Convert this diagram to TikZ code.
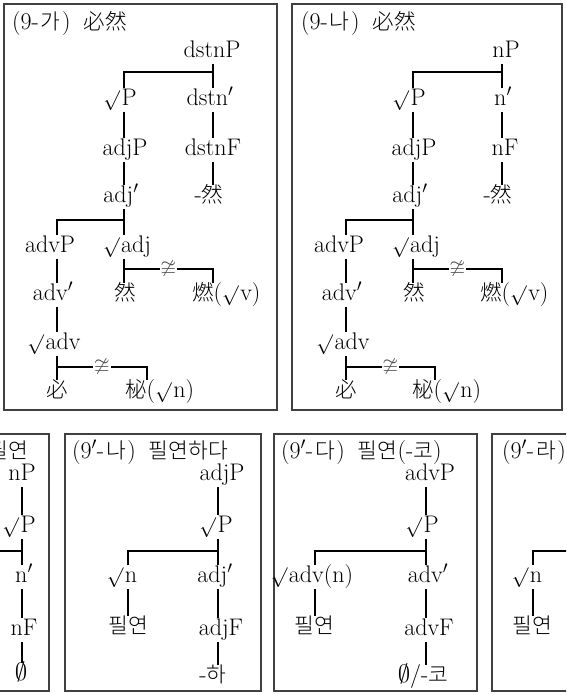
\documentclass[tikz,border=0pt]{standalone}
\usepackage{amsmath,amssymb}
\usepackage{graphicx}
\usepackage{fontspec}
\newfontfamily\krfont{Noto Sans CJK KR Light}
\newcommand{\kr}[1]{{\krfont\fontsize{21.5}{26}\selectfont #1}}
\newcommand{\rt}{\scalebox{0.8}{$\surd$}\hspace{1.5pt}}
\newcommand{\no}[2]{(#1-\hspace{2pt}\kr{#2}\hspace{1.5pt})\hspace{13pt}}
\usepackage{tikz}
\usetikzlibrary{calc}

\begin{document}
\begin{tikzpicture}[x=1pt, y=-1pt,
  lbl/.style={inner sep=0pt, minimum height=24pt, text height=15pt,
    text depth=4pt, font=\fontsize{24}{28}\selectfont},
  ttl/.style={lbl, anchor=west, minimum height=0pt},
  box/.style={draw=black!75, line width=1.3pt},
  branch/.style={line width=1.8pt},
  rel/.style={fill=white, inner sep=1pt, text=black!70,
    font=\fontsize{20}{22}\selectfont}]
  \useasboundingbox (0,0) rectangle (566,694);
  \clip (0,0) rectangle (566,694);
  % Panel (9-ga): dstnP
  \begin{scope}[name prefix=tl-]
    \draw[box] (4,4) rectangle (277,410);
    \node[ttl] (title) at (12,24) {\no{9}{가}\kr{必然}};
    \coordinate (cA) at (57,0);
    \coordinate (cB) at (124,0);
    \coordinate (cC) at (213,0);
    \node[lbl] (dstnP) at (212,52) {dstnP};
    \node[lbl] (rootP) at (120,100) {\rt P};
    \node[lbl] (dstnbar) at (210,100) {dstn$'$};
    \node[lbl] (adjP) at (125,150) {adjP};
    \node[lbl] (dstnF) at (213,150) {dstnF};
    \node[lbl] (adjbar) at (121,197) {adj$'$};
    \node[lbl] (suffix) at (209,197) {-\kr{然}};
    \node[lbl] (advP) at (50,247) {advP};
    \node[lbl] (rootadj) at (127,247) {\rt adj};
    \node[lbl] (advbar) at (53,295) {adv$'$};
    \node[lbl] (yeon) at (125,295) {\kr{然}};
    \node[lbl, anchor=west] (yeonv) at (192,295) {\kr{燃}(\rt v)};
    \node[lbl] (rootadv) at (54,344) {\rt adv};
    \node[lbl] (pil) at (57,392) {\kr{必}};
    \node[lbl, anchor=west] (piln) at (125,392) {\kr{柲}(\rt n)};
    \coordinate (j1) at (213,72);
    \coordinate (j2) at (124,220);
    \coordinate (j3) at (124,269);
    \coordinate (j4) at (213,269);
    \coordinate (j5) at (57,367);
    \coordinate (j6) at (147,367);
    \draw[branch] (dstnP.south -| cC) -- (dstnbar.north -| cC);
    \draw[branch] (rootP.north -| cB) |- (j1);
    \draw[branch] (dstnbar.south -| cC) -- (dstnF.north -| cC);
    \draw[branch] (dstnF.south -| cC) -- (suffix.north -| cC);
    \draw[branch] (rootP.south -| cB) -- (adjP.north -| cB);
    \draw[branch] (adjP.south -| cB) -- (adjbar.north -| cB);
    \draw[branch] (adjbar.south -| cB) -- (rootadj.north -| cB);
    \draw[branch] (advP.north -| cA) |- (j2);
    \draw[branch] (rootadj.south -| cB) -- (yeon.north -| cB);
    \draw[branch] (j3) -- node[rel] {$\ncong$} (j4) -- (yeonv.north -| j4);
    \draw[branch] (advP.south -| cA) -- (advbar.north -| cA);
    \draw[branch] (advbar.south -| cA) -- (rootadv.north -| cA);
    \draw[branch] (rootadv.south -| cA) -- (pil.north -| cA);
    \draw[branch] (j5) -- node[rel] {$\ncong$} (j6) -- (piln.north -| j6);
  \end{scope}
  % Panel (9-na): nP
  \begin{scope}[shift={(289,0)}, name prefix=tr-]
    \draw[box] (3,4) rectangle (273,410);
    \node[ttl] (title) at (12,24) {\no{9}{나}\kr{必然}};
    \coordinate (cA) at (57,0);
    \coordinate (cB) at (124,0);
    \coordinate (cC) at (213,0);
    \node[lbl] (nP) at (217,52) {nP};
    \node[lbl] (rootP) at (120,100) {\rt P};
    \node[lbl] (nbar) at (214,100) {n$'$};
    \node[lbl] (adjP) at (125,150) {adjP};
    \node[lbl] (nF) at (216,150) {nF};
    \node[lbl] (adjbar) at (121,197) {adj$'$};
    \node[lbl] (suffix) at (209,197) {-\kr{然}};
    \node[lbl] (advP) at (50,247) {advP};
    \node[lbl] (rootadj) at (127,247) {\rt adj};
    \node[lbl] (advbar) at (53,295) {adv$'$};
    \node[lbl] (yeon) at (125,295) {\kr{然}};
    \node[lbl, anchor=west] (yeonv) at (191,295) {\kr{燃}(\rt v)};
    \node[lbl] (rootadv) at (54,344) {\rt adv};
    \node[lbl] (pil) at (57,392) {\kr{必}};
    \node[lbl, anchor=west] (piln) at (123,392) {\kr{柲}(\rt n)};
    \coordinate (j1) at (213,72);
    \coordinate (j2) at (124,220);
    \coordinate (j3) at (124,269);
    \coordinate (j4) at (213,269);
    \coordinate (j5) at (57,367);
    \coordinate (j6) at (146,367);
    \draw[branch] (nP.south -| cC) -- (nbar.north -| cC);
    \draw[branch] (rootP.north -| cB) |- (j1);
    \draw[branch] (nbar.south -| cC) -- (nF.north -| cC);
    \draw[branch] (nF.south -| cC) -- (suffix.north -| cC);
    \draw[branch] (rootP.south -| cB) -- (adjP.north -| cB);
    \draw[branch] (adjP.south -| cB) -- (adjbar.north -| cB);
    \draw[branch] (adjbar.south -| cB) -- (rootadj.north -| cB);
    \draw[branch] (advP.north -| cA) |- (j2);
    \draw[branch] (rootadj.south -| cB) -- (yeon.north -| cB);
    \draw[branch] (j3) -- node[rel] {$\ncong$} (j4) -- (yeonv.north -| j4);
    \draw[branch] (advP.south -| cA) -- (advbar.north -| cA);
    \draw[branch] (advbar.south -| cA) -- (rootadv.north -| cA);
    \draw[branch] (rootadv.south -| cA) -- (pil.north -| cA);
    \draw[branch] (j5) -- node[rel] {$\ncong$} (j6) -- (piln.north -| j6);
  \end{scope}
  % Panel (9'-ga): cut at the left edge
  \begin{scope}[name prefix=ba-]
    \draw[box] (-10,434) rectangle (49,691);
    \node[ttl, anchor=east] (title) at (28,453) {\no{9$'$}{가}\kr{필연}};
    \coordinate (cR) at (22,0);
    \coordinate (jl) at (-10,551);
    \coordinate (jr) at (22,551);
    \node[lbl] (nP) at (22,475) {nP};
    \node[lbl] (rootP) at (19,527) {\rt P};
    \node[lbl] (nbar) at (24,577) {n$'$};
    \node[lbl] (nF) at (24,630) {nF};
    \node[lbl] (null) at (21,675) {$\emptyset$};
    \draw[branch] (nP.south -| cR) -- (rootP.north -| cR);
    \draw[branch] (jl) -- (jr);
    \draw[branch] (rootP.south -| cR) -- (nbar.north -| cR);
    \draw[branch] (nbar.south -| cR) -- (nF.north -| cR);
    \draw[branch] (nF.south -| cR) -- (null.north -| cR);
  \end{scope}
  % Panel (9'-na): adjP
  \begin{scope}[name prefix=bb-]
    \draw[box] (65,434) rectangle (261,691);
    \node[ttl] (title) at (72,453) {\no{9$'$}{나}\kr{필연하다}};
    \coordinate (cL) at (128,0);
    \coordinate (cR) at (218,0);
    \coordinate (j1) at (218,551);
    \node[lbl] (adjP) at (222,475) {adjP};
    \node[lbl] (rootP) at (216,527) {\rt P};
    \node[lbl] (rootn) at (122,577) {\rt n};
    \node[lbl] (adjbar) at (215,577) {adj$'$};
    \node[lbl] (pilyeon) at (128,628) {\kr{필연}};
    \node[lbl] (adjF) at (221,630) {adjF};
    \node[lbl] (ha) at (213,677) {-\kr{하}};
    \draw[branch] (adjP.south -| cR) -- (rootP.north -| cR);
    \draw[branch] (rootn.north -| cL) |- (j1);
    \draw[branch] (rootP.south -| cR) -- (adjbar.north -| cR);
    \draw[branch] (adjbar.south -| cR) -- (adjF.north -| cR);
    \draw[branch] (adjF.south -| cR) -- (ha.north -| cR);
    \draw[branch] (rootn.south -| cL) -- (pilyeon.north -| cL);
  \end{scope}
  % Panel (9'-da): advP
  \begin{scope}[name prefix=bc-]
    \draw[box] (274,434) rectangle (477,691);
    \node[ttl] (title) at (281,453) {\no{9$'$}{다}\kr{필연}(-\kr{코})};
    \coordinate (cL) at (315,0);
    \coordinate (cR) at (426,0);
    \coordinate (j1) at (426,551);
    \node[lbl] (advP) at (430,475) {advP};
    \node[lbl] (rootP) at (422,527) {\rt P};
    \node[lbl] (rootadv) at (312,577) {\rt adv(n)};
    \node[lbl] (advbar) at (428,577) {adv$'$};
    \node[lbl] (pilyeon) at (314,628) {\kr{필연}};
    \node[lbl] (advF) at (429,630) {advF};
    \node[lbl] (ko) at (423,677) {$\emptyset$/-\kr{코}};
    \draw[branch] (advP.south -| cR) -- (rootP.north -| cR);
    \draw[branch] (rootadv.north -| cL) |- (j1);
    \draw[branch] (rootP.south -| cR) -- (advbar.north -| cR);
    \draw[branch] (advbar.south -| cR) -- (advF.north -| cR);
    \draw[branch] (advF.south -| cR) -- (ko.north -| cR);
    \draw[branch] (rootadv.south -| cL) -- (pilyeon.north -| cL);
  \end{scope}
  % Panel (9'-ra): cut at the right edge
  \begin{scope}[name prefix=bd-]
    \draw[box] (492,434) rectangle (580,691);
    \node[ttl] (title) at (502,453) {\no{9$'$}{라}};
    \coordinate (cL) at (533,0);
    \coordinate (jr) at (580,551);
    \node[lbl] (rootn) at (527,577) {\rt n};
    \node[lbl] (pilyeon) at (532,628) {\kr{필연}};
    \draw[branch] (rootn.north -| cL) |- (jr);
    \draw[branch] (rootn.south -| cL) -- (pilyeon.north -| cL);
  \end{scope}
\end{tikzpicture}
\end{document}
